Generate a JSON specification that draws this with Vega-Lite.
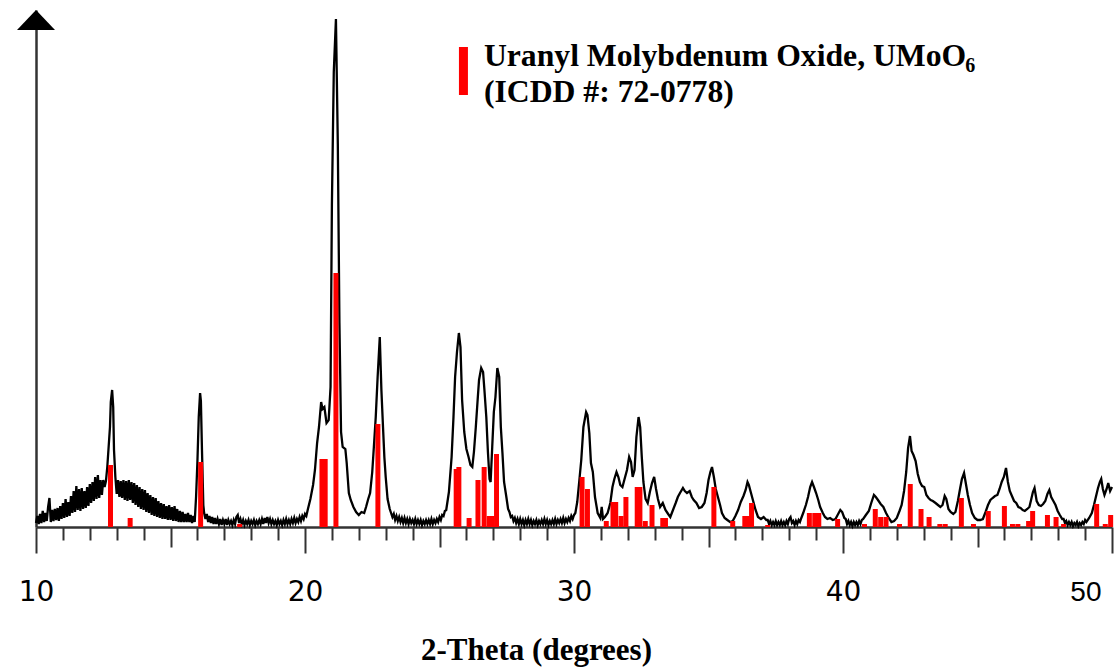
{
  "$schema": "https://vega.github.io/schema/vega-lite/v6.json",
  "width": 1076,
  "height": 517,
  "autosize": "none",
  "padding": {"left": 36, "top": 10, "right": 4, "bottom": 141},
  "background": "white",
  "config": {"view": {"stroke": null}},
  "datasets": {
    "scan": [
      {"t":10.0,"i":4},{"t":10.05,"i":11},{"t":10.1,"i":3},{"t":10.15,"i":13},{"t":10.2,"i":4},{"t":10.25,"i":16},{"t":10.3,"i":5},{"t":10.35,"i":14},{"t":10.4,"i":6},{"t":10.45,"i":20},
      {"t":10.5,"i":29},{"t":10.55,"i":5},{"t":10.6,"i":17},{"t":10.65,"i":6},{"t":10.7,"i":18},{"t":10.75,"i":7},{"t":10.8,"i":19},{"t":10.85,"i":6},{"t":10.9,"i":21},{"t":10.95,"i":8},
      {"t":11.0,"i":24},{"t":11.05,"i":9},{"t":11.1,"i":28},{"t":11.15,"i":10},{"t":11.2,"i":25},{"t":11.25,"i":11},{"t":11.3,"i":31},{"t":11.35,"i":14},{"t":11.4,"i":36},{"t":11.45,"i":15},
      {"t":11.5,"i":41},{"t":11.55,"i":17},{"t":11.6,"i":38},{"t":11.65,"i":16},{"t":11.7,"i":39},{"t":11.75,"i":18},{"t":11.8,"i":36},{"t":11.85,"i":19},{"t":11.9,"i":40},{"t":11.95,"i":21},
      {"t":12.0,"i":43},{"t":12.05,"i":24},{"t":12.1,"i":45},{"t":12.15,"i":26},{"t":12.2,"i":50},{"t":12.25,"i":28},{"t":12.3,"i":52},{"t":12.35,"i":29},{"t":12.4,"i":47},{"t":12.45,"i":32},
      {"t":12.5,"i":47},{"t":12.55,"i":40},{"t":12.6,"i":46},{"t":12.65,"i":60},{"t":12.7,"i":80},{"t":12.75,"i":100},{"t":12.78,"i":125},{"t":12.83,"i":137},{"t":12.87,"i":120},{"t":12.9,"i":77},
      {"t":12.95,"i":50},{"t":13.0,"i":33},{"t":13.05,"i":47},{"t":13.1,"i":30},{"t":13.15,"i":46},{"t":13.2,"i":29},{"t":13.25,"i":47},{"t":13.3,"i":27},{"t":13.35,"i":46},{"t":13.4,"i":26},
      {"t":13.45,"i":47},{"t":13.5,"i":27},{"t":13.55,"i":45},{"t":13.6,"i":24},{"t":13.65,"i":44},{"t":13.7,"i":22},{"t":13.75,"i":42},{"t":13.8,"i":20},{"t":13.85,"i":40},{"t":13.9,"i":18},
      {"t":13.95,"i":38},{"t":14.0,"i":17},{"t":14.05,"i":37},{"t":14.1,"i":15},{"t":14.15,"i":34},{"t":14.2,"i":14},{"t":14.25,"i":32},{"t":14.3,"i":12},{"t":14.35,"i":30},{"t":14.4,"i":11},
      {"t":14.45,"i":29},{"t":14.5,"i":10},{"t":14.55,"i":26},{"t":14.6,"i":9},{"t":14.65,"i":24},{"t":14.7,"i":8},{"t":14.75,"i":23},{"t":14.8,"i":8},{"t":14.85,"i":21},{"t":14.9,"i":7},
      {"t":14.95,"i":22},{"t":15.0,"i":7},{"t":15.05,"i":20},{"t":15.1,"i":6},{"t":15.15,"i":21},{"t":15.2,"i":6},{"t":15.25,"i":18},{"t":15.3,"i":5},{"t":15.35,"i":16},{"t":15.4,"i":5},
      {"t":15.45,"i":15},{"t":15.5,"i":5},{"t":15.55,"i":13},{"t":15.6,"i":5},{"t":15.65,"i":14},{"t":15.7,"i":5},{"t":15.75,"i":12},{"t":15.8,"i":4},{"t":15.85,"i":11},{"t":15.9,"i":5},
      {"t":15.95,"i":30},{"t":16.0,"i":65},{"t":16.05,"i":110},{"t":16.1,"i":134},{"t":16.13,"i":126},{"t":16.17,"i":77},{"t":16.22,"i":22},
      {"t":16.25,"i":14},{"t":16.3,"i":8},{"t":16.35,"i":13},{"t":16.4,"i":5},{"t":16.45,"i":11},{"t":16.5,"i":4},{"t":16.55,"i":10},{"t":16.6,"i":3},{"t":16.65,"i":9},{"t":16.7,"i":3},
      {"t":16.75,"i":8},{"t":16.8,"i":3},{"t":16.85,"i":8},{"t":16.9,"i":2},{"t":16.95,"i":7},{"t":17.0,"i":3},{"t":17.05,"i":8},{"t":17.1,"i":2},{"t":17.15,"i":7},{"t":17.2,"i":3},
      {"t":17.25,"i":6},{"t":17.3,"i":2},{"t":17.35,"i":7},{"t":17.4,"i":3},{"t":17.45,"i":10},{"t":17.5,"i":12},{"t":17.55,"i":4},{"t":17.6,"i":8},{"t":17.65,"i":3},{"t":17.7,"i":7},
      {"t":17.75,"i":2},{"t":17.8,"i":6},{"t":17.85,"i":3},{"t":17.9,"i":7},{"t":17.95,"i":2},{"t":18.0,"i":6},{"t":18.05,"i":3},{"t":18.1,"i":7},{"t":18.15,"i":2},{"t":18.2,"i":6},
      {"t":18.25,"i":3},{"t":18.3,"i":7},{"t":18.35,"i":3},{"t":18.4,"i":8},{"t":18.45,"i":3},{"t":18.5,"i":9},{"t":18.55,"i":4},{"t":18.6,"i":10},{"t":18.65,"i":4},{"t":18.7,"i":8},
      {"t":18.75,"i":3},{"t":18.8,"i":7},{"t":18.85,"i":3},{"t":18.9,"i":6},{"t":18.95,"i":2},{"t":19.0,"i":7},{"t":19.05,"i":3},{"t":19.1,"i":6},{"t":19.15,"i":2},{"t":19.2,"i":7},
      {"t":19.25,"i":3},{"t":19.3,"i":8},{"t":19.35,"i":3},{"t":19.4,"i":7},{"t":19.45,"i":3},{"t":19.5,"i":8},{"t":19.55,"i":4},{"t":19.6,"i":9},{"t":19.65,"i":4},{"t":19.7,"i":8},
      {"t":19.75,"i":5},{"t":19.8,"i":10},{"t":19.85,"i":6},{"t":19.9,"i":11},{"t":19.95,"i":8},{"t":20.0,"i":13},{"t":20.05,"i":11},{"t":20.1,"i":17},
      {"t":20.2,"i":28},{"t":20.3,"i":42},{"t":20.37,"i":57},{"t":20.45,"i":84},{"t":20.52,"i":100},{"t":20.6,"i":125},{"t":20.65,"i":118},{"t":20.72,"i":120},{"t":20.8,"i":104},
      {"t":20.88,"i":107},{"t":20.95,"i":140},{"t":21.0,"i":322},{"t":21.07,"i":455},{"t":21.15,"i":508},{"t":21.22,"i":383},{"t":21.28,"i":204},{"t":21.34,"i":95},{"t":21.4,"i":80},{"t":21.5,"i":78},
      {"t":21.55,"i":64},{"t":21.63,"i":34},{"t":21.7,"i":27},{"t":21.8,"i":20},{"t":21.9,"i":15},{"t":22.0,"i":12},{"t":22.1,"i":15},{"t":22.2,"i":14},{"t":22.27,"i":20},{"t":22.35,"i":28},
      {"t":22.42,"i":34},{"t":22.5,"i":55},{"t":22.56,"i":80},{"t":22.63,"i":110},{"t":22.7,"i":150},{"t":22.78,"i":190},{"t":22.84,"i":137},{"t":22.9,"i":100},{"t":22.95,"i":70},{"t":23.0,"i":50},
      {"t":23.07,"i":28},{"t":23.15,"i":18},
      {"t":23.2,"i":14},{"t":23.25,"i":10},{"t":23.3,"i":13},{"t":23.35,"i":7},{"t":23.4,"i":11},{"t":23.45,"i":6},{"t":23.5,"i":10},{"t":23.55,"i":5},{"t":23.6,"i":9},{"t":23.65,"i":4},
      {"t":23.7,"i":9},{"t":23.75,"i":4},{"t":23.8,"i":8},{"t":23.85,"i":3},{"t":23.9,"i":8},{"t":23.95,"i":4},{"t":24.0,"i":7},{"t":24.05,"i":3},{"t":24.1,"i":8},{"t":24.15,"i":3},
      {"t":24.2,"i":7},{"t":24.25,"i":3},{"t":24.3,"i":7},{"t":24.35,"i":2},{"t":24.4,"i":6},{"t":24.45,"i":3},{"t":24.5,"i":7},{"t":24.55,"i":3},{"t":24.6,"i":7},{"t":24.65,"i":3},
      {"t":24.7,"i":8},{"t":24.75,"i":3},{"t":24.8,"i":7},{"t":24.85,"i":4},{"t":24.9,"i":8},{"t":24.95,"i":5},{"t":25.0,"i":10},{"t":25.05,"i":7},{"t":25.1,"i":12},{"t":25.15,"i":11},
      {"t":25.2,"i":16},{"t":25.25,"i":17},{"t":25.35,"i":35},{"t":25.45,"i":70},{"t":25.52,"i":110},{"t":25.58,"i":150},{"t":25.65,"i":175},{"t":25.72,"i":194},{"t":25.78,"i":180},
      {"t":25.84,"i":127},{"t":25.92,"i":95},{"t":26.0,"i":78},{"t":26.08,"i":70},{"t":26.15,"i":62},{"t":26.22,"i":60},{"t":26.28,"i":75},{"t":26.35,"i":100},{"t":26.42,"i":128},{"t":26.47,"i":147},
      {"t":26.55,"i":159},{"t":26.62,"i":155},{"t":26.67,"i":137},{"t":26.74,"i":110},{"t":26.8,"i":75},{"t":26.86,"i":48},{"t":26.9,"i":45},{"t":26.96,"i":80},{"t":27.02,"i":115},{"t":27.08,"i":130},
      {"t":27.15,"i":159},{"t":27.22,"i":150},{"t":27.28,"i":100},{"t":27.34,"i":74},{"t":27.4,"i":45},{"t":27.48,"i":31},{"t":27.55,"i":18},
      {"t":27.6,"i":15},{"t":27.65,"i":10},{"t":27.7,"i":11},{"t":27.75,"i":6},{"t":27.8,"i":9},{"t":27.85,"i":4},{"t":27.9,"i":8},{"t":27.95,"i":3},{"t":28.0,"i":8},{"t":28.05,"i":3},
      {"t":28.1,"i":7},{"t":28.15,"i":2},{"t":28.2,"i":7},{"t":28.25,"i":3},{"t":28.3,"i":8},{"t":28.35,"i":3},{"t":28.4,"i":7},{"t":28.45,"i":2},{"t":28.5,"i":6},{"t":28.55,"i":3},
      {"t":28.6,"i":7},{"t":28.65,"i":2},{"t":28.7,"i":6},{"t":28.75,"i":3},{"t":28.8,"i":7},{"t":28.85,"i":3},{"t":28.9,"i":8},{"t":28.95,"i":3},{"t":29.0,"i":7},{"t":29.05,"i":2},
      {"t":29.1,"i":6},{"t":29.15,"i":3},{"t":29.2,"i":7},{"t":29.25,"i":3},{"t":29.3,"i":8},{"t":29.35,"i":3},{"t":29.4,"i":7},{"t":29.45,"i":4},{"t":29.5,"i":8},{"t":29.55,"i":4},
      {"t":29.6,"i":9},{"t":29.65,"i":4},{"t":29.7,"i":8},{"t":29.75,"i":5},{"t":29.8,"i":9},{"t":29.85,"i":6},{"t":29.9,"i":11},{"t":29.95,"i":8},{"t":30.0,"i":12},{"t":30.05,"i":14},
      {"t":30.12,"i":25},{"t":30.2,"i":47},{"t":30.27,"i":67},{"t":30.35,"i":100},{"t":30.45,"i":115},{"t":30.5,"i":112},{"t":30.57,"i":94},{"t":30.63,"i":64},
      {"t":30.7,"i":55},{"t":30.78,"i":30},{"t":30.88,"i":14},{"t":30.98,"i":9},{"t":31.03,"i":20},{"t":31.08,"i":8},{"t":31.15,"i":10},{"t":31.25,"i":14},{"t":31.35,"i":24},{"t":31.43,"i":40},
      {"t":31.5,"i":48},{"t":31.58,"i":55},{"t":31.65,"i":50},{"t":31.72,"i":42},{"t":31.8,"i":40},{"t":31.88,"i":48},{"t":31.97,"i":57},{"t":32.05,"i":70},{"t":32.12,"i":65},{"t":32.18,"i":50},
      {"t":32.25,"i":57},{"t":32.32,"i":90},{"t":32.4,"i":110},{"t":32.46,"i":100},{"t":32.52,"i":70},{"t":32.58,"i":45},{"t":32.66,"i":28},{"t":32.74,"i":24},{"t":32.82,"i":35},{"t":32.9,"i":44},
      {"t":32.98,"i":50},{"t":33.05,"i":38},{"t":33.12,"i":28},{"t":33.2,"i":20},{"t":33.3,"i":24},{"t":33.4,"i":17},{"t":33.5,"i":13},{"t":33.58,"i":10},{"t":33.68,"i":17},{"t":33.78,"i":24},
      {"t":33.86,"i":30},{"t":33.94,"i":34},{"t":34.05,"i":39},{"t":34.12,"i":36},{"t":34.2,"i":34},{"t":34.3,"i":36},{"t":34.38,"i":30},{"t":34.45,"i":27},{"t":34.55,"i":24},{"t":34.65,"i":19},
      {"t":34.75,"i":20},{"t":34.85,"i":24},{"t":34.93,"i":34},{"t":35.0,"i":47},{"t":35.07,"i":55},{"t":35.13,"i":60},{"t":35.2,"i":50},{"t":35.27,"i":38},{"t":35.35,"i":30},{"t":35.43,"i":22},
      {"t":35.5,"i":14},{"t":35.6,"i":9},{"t":35.7,"i":7},{"t":35.8,"i":5},{"t":35.9,"i":6},{"t":36.0,"i":11},{"t":36.1,"i":17},{"t":36.2,"i":25},{"t":36.3,"i":31},{"t":36.38,"i":37},
      {"t":36.45,"i":45},{"t":36.5,"i":42},{"t":36.58,"i":34},{"t":36.67,"i":25},{"t":36.75,"i":17},{"t":36.84,"i":10},{"t":36.95,"i":8},{"t":37.05,"i":10},{"t":37.15,"i":7},
      {"t":37.2,"i":7},{"t":37.25,"i":3},{"t":37.3,"i":6},{"t":37.35,"i":2},{"t":37.4,"i":5},{"t":37.45,"i":2},{"t":37.5,"i":6},{"t":37.55,"i":2},{"t":37.6,"i":5},{"t":37.65,"i":2},
      {"t":37.7,"i":6},{"t":37.75,"i":2},{"t":37.8,"i":5},{"t":37.85,"i":2},{"t":37.9,"i":6},{"t":37.95,"i":3},{"t":38.0,"i":8},{"t":38.05,"i":10},{"t":38.1,"i":4},{"t":38.15,"i":6},
      {"t":38.2,"i":2},{"t":38.25,"i":6},{"t":38.3,"i":3},{"t":38.35,"i":7},{"t":38.4,"i":5},{"t":38.45,"i":9},
      {"t":38.52,"i":14},{"t":38.62,"i":22},{"t":38.7,"i":30},{"t":38.78,"i":40},{"t":38.85,"i":45},{"t":38.92,"i":40},{"t":39.0,"i":34},{"t":39.08,"i":27},
      {"t":39.15,"i":20},{"t":39.25,"i":14},{"t":39.33,"i":10},{"t":39.42,"i":8},{"t":39.52,"i":9},{"t":39.62,"i":7},{"t":39.72,"i":8},{"t":39.8,"i":12},{"t":39.9,"i":17},{"t":39.97,"i":15},
      {"t":40.05,"i":9},{"t":40.1,"i":8},{"t":40.15,"i":3},{"t":40.2,"i":6},{"t":40.25,"i":2},{"t":40.3,"i":5},{"t":40.35,"i":1},{"t":40.4,"i":5},{"t":40.45,"i":2},{"t":40.5,"i":5},
      {"t":40.55,"i":2},{"t":40.6,"i":6},{"t":40.65,"i":3},{"t":40.7,"i":7},{"t":40.75,"i":8},{"t":40.85,"i":12},{"t":40.96,"i":16},
      {"t":41.05,"i":24},{"t":41.15,"i":32},{"t":41.22,"i":30},{"t":41.3,"i":27},{"t":41.4,"i":23},{"t":41.5,"i":20},{"t":41.6,"i":14},{"t":41.7,"i":9},{"t":41.8,"i":5},{"t":41.9,"i":6},
      {"t":42.0,"i":9},{"t":42.1,"i":16},{"t":42.18,"i":22},{"t":42.27,"i":36},{"t":42.35,"i":55},{"t":42.42,"i":79},{"t":42.49,"i":91},{"t":42.55,"i":76},{"t":42.62,"i":72},{"t":42.7,"i":66},
      {"t":42.78,"i":53},{"t":42.86,"i":45},{"t":42.94,"i":41},{"t":43.02,"i":40},{"t":43.1,"i":32},{"t":43.18,"i":29},{"t":43.26,"i":27},{"t":43.34,"i":26},{"t":43.44,"i":24},{"t":43.53,"i":22},
      {"t":43.62,"i":20},{"t":43.7,"i":22},{"t":43.78,"i":31},{"t":43.84,"i":28},{"t":43.92,"i":18},{"t":44.0,"i":15},{"t":44.1,"i":13},{"t":44.18,"i":15},{"t":44.27,"i":26},{"t":44.35,"i":38},
      {"t":44.42,"i":48},{"t":44.5,"i":54},{"t":44.57,"i":43},{"t":44.64,"i":32},{"t":44.72,"i":22},{"t":44.8,"i":14},{"t":44.9,"i":9},{"t":45.0,"i":7},{"t":45.1,"i":7},{"t":45.2,"i":8},
      {"t":45.3,"i":15},{"t":45.39,"i":22},{"t":45.48,"i":27},{"t":45.56,"i":29},{"t":45.65,"i":31},{"t":45.74,"i":32},{"t":45.82,"i":38},{"t":45.9,"i":45},{"t":45.98,"i":50},{"t":46.06,"i":59},
      {"t":46.13,"i":45},{"t":46.2,"i":36},{"t":46.28,"i":31},{"t":46.36,"i":26},{"t":46.44,"i":24},{"t":46.52,"i":20},{"t":46.6,"i":19},{"t":46.68,"i":17},{"t":46.76,"i":16},{"t":46.85,"i":18},
      {"t":46.93,"i":20},{"t":47.0,"i":28},{"t":47.06,"i":35},{"t":47.12,"i":39},{"t":47.2,"i":26},{"t":47.28,"i":22},{"t":47.36,"i":21},{"t":47.44,"i":23},{"t":47.52,"i":26},{"t":47.6,"i":33},
      {"t":47.67,"i":37},{"t":47.74,"i":30},{"t":47.82,"i":26},{"t":47.9,"i":22},{"t":47.98,"i":16},{"t":48.06,"i":12},{"t":48.15,"i":8},
      {"t":48.2,"i":8},{"t":48.25,"i":4},{"t":48.3,"i":6},{"t":48.35,"i":2},{"t":48.4,"i":5},{"t":48.45,"i":2},{"t":48.5,"i":5},{"t":48.55,"i":1},{"t":48.6,"i":4},{"t":48.65,"i":2},
      {"t":48.7,"i":5},{"t":48.75,"i":1},{"t":48.8,"i":4},{"t":48.85,"i":2},{"t":48.9,"i":5},{"t":48.95,"i":3},{"t":49.0,"i":7},{"t":49.05,"i":5},
      {"t":49.15,"i":9},{"t":49.25,"i":14},{"t":49.33,"i":22},{"t":49.4,"i":30},
      {"t":49.48,"i":39},{"t":49.55,"i":45},{"t":49.6,"i":48},{"t":49.66,"i":38},{"t":49.72,"i":32},{"t":49.8,"i":38},{"t":49.86,"i":44},{"t":49.93,"i":36},{"t":50.0,"i":40}
    ],
    "sticks": [
      {"t":12.77,"i":62},{"t":13.5,"i":9},{"t":16.12,"i":65},{"t":17.57,"i":3},{"t":20.63,"i":68},{"t":20.75,"i":68},{"t":21.15,"i":254},{"t":22.71,"i":103},
      {"t":25.62,"i":58},{"t":25.72,"i":60},{"t":26.1,"i":9},{"t":26.43,"i":47},{"t":26.66,"i":60},{"t":26.85,"i":11},{"t":26.95,"i":11},{"t":27.12,"i":73},
      {"t":30.3,"i":50},{"t":30.5,"i":38},{"t":31.2,"i":6},{"t":31.45,"i":25},{"t":31.55,"i":25},{"t":31.75,"i":11},{"t":31.93,"i":30},{"t":32.35,"i":40},
      {"t":32.45,"i":40},{"t":32.65,"i":6},{"t":32.9,"i":22},{"t":33.3,"i":9},{"t":33.4,"i":9},{"t":35.2,"i":40},{"t":35.9,"i":6},{"t":36.35,"i":11},
      {"t":36.45,"i":11},{"t":36.6,"i":24},{"t":37.2,"i":2},{"t":38.75,"i":14},{"t":38.95,"i":14},{"t":39.1,"i":14},{"t":39.8,"i":8},{"t":40.8,"i":3},
      {"t":41.2,"i":18},{"t":41.4,"i":10},{"t":41.6,"i":10},{"t":42.1,"i":3},{"t":42.5,"i":43},{"t":42.9,"i":18},{"t":43.2,"i":10},{"t":43.6,"i":3},
      {"t":43.8,"i":3},{"t":44.4,"i":29},{"t":44.85,"i":3},{"t":45.4,"i":16},{"t":46.0,"i":21},{"t":46.3,"i":3},{"t":46.5,"i":3},{"t":46.9,"i":6},
      {"t":47.05,"i":16},{"t":47.6,"i":12},{"t":47.92,"i":10},{"t":48.2,"i":3},{"t":49.43,"i":23},{"t":49.75,"i":3},{"t":49.95,"i":12}
    ],
    "legend": [
      {"t": 25.89, "i": 480, "i2": 432}
    ],
    "notes": [
      {"t": 26.65, "i": 461, "label": "Uranyl Molybdenum Oxide, UMoO"},
      {"t": 26.65, "i": 425, "label": "(ICDD #: 72-0778)"}
    ],
    "subscript": [
      {"t": 44.54, "i": 455, "label": "6"}
    ],
    "arrow": [
      {"t": 10, "i": 507}
    ]
  },
  "encoding": {
    "x": {
      "field": "t", "type": "quantitative",
      "scale": {"domain": [10, 50], "nice": false, "zero": false, "padding": 0},
      "axis": {
        "values": [10,11,12,13,14,15,16,17,18,19,20,21,22,23,24,25,26,27,28,29,30,31,32,33,34,35,36,37,38,39,40,41,42,43,44,45,46,47,48,49,50],
        "grid": false,
        "domainColor": "#333333", "domainWidth": 2.5,
        "tickColor": "#333333", "tickWidth": 2,
        "tickSize": {"expr": "datum.value % 10 === 0 ? 26 : (datum.value % 5 === 0 ? 20 : 13)"},
        "labelExpr": "datum.value % 10 === 0 ? datum.label : ''",
        "labelFont": {"condition": {"test": "datum.value === 50", "value": "Liberation Sans"}, "value": "DejaVu Sans"},
        "labelFontSize": 28,
        "labelColor": "black",
        "labelAlign": {"condition": {"test": "datum.value === 50", "value": "right"}, "value": "center"},
        "labelOffset": {"condition": {"test": "datum.value === 50", "value": -11}, "value": 0},
        "labelBaseline": "alphabetic",
        "labelPadding": 47,
        "labelOverlap": false, "labelBound": false, "labelFlush": false,
        "title": "2-Theta (degrees)",
        "titleFont": "Liberation Serif", "titleFontWeight": "bold", "titleFontSize": 31, "titleColor": "black",
        "titleX": 500, "titleY": 132, "titleAlign": "center", "titleBaseline": "alphabetic"
      }
    },
    "y": {
      "field": "i", "type": "quantitative",
      "scale": {"domain": [0, 517], "nice": false, "zero": false},
      "axis": {"domain": true, "domainColor": "#333333", "domainWidth": 2.5, "ticks": false, "labels": false, "grid": false, "title": null}
    }
  },
  "layer": [
    {
      "data": {"name": "scan"},
      "mark": {"type": "line", "color": "black", "strokeWidth": 2.3, "interpolate": "linear"}
    },
    {
      "data": {"name": "sticks"},
      "mark": {"type": "bar", "color": "#ff0000", "size": 5}
    },
    {
      "data": {"name": "legend"},
      "mark": {"type": "rule", "color": "#ff0000", "strokeWidth": 9},
      "encoding": {"y2": {"field": "i2"}}
    },
    {
      "data": {"name": "notes"},
      "mark": {"type": "text", "align": "left", "baseline": "alphabetic", "font": "Liberation Serif", "fontWeight": "bold", "fontSize": 31.7, "color": "black"},
      "encoding": {"text": {"field": "label"}}
    },
    {
      "data": {"name": "subscript"},
      "mark": {"type": "text", "align": "left", "baseline": "alphabetic", "font": "Liberation Serif", "fontWeight": "bold", "fontSize": 20, "color": "black"},
      "encoding": {"text": {"field": "label"}}
    },
    {
      "data": {"name": "arrow"},
      "mark": {"type": "point", "shape": "M -1 0.526 L 1 0.526 L 0 -0.526 Z", "size": 1444, "filled": true, "color": "black", "opacity": 1}
    }
  ]
}
